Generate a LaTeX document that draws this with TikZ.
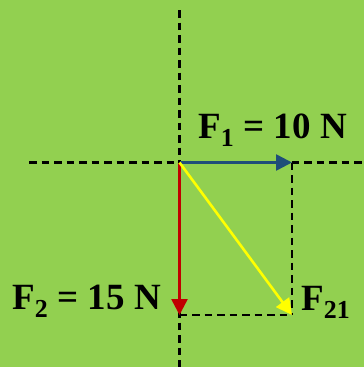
\documentclass[tikz,border=0pt]{standalone}
\usepackage{fontspec}
\setmainfont{Liberation Serif}
\usetikzlibrary{arrows.meta}
\definecolor{bggreen}{RGB}{146,208,80}
\definecolor{fblue}{RGB}{31,78,121}
\definecolor{fred}{RGB}{192,0,0}
\definecolor{fyellow}{RGB}{255,255,0}
\begin{document}
\begin{tikzpicture}[x=1pt,y=-1pt,
  guide/.style={black,line width=2.2pt,dash pattern=on 7.5pt off 5pt},
  force/.style={line width=2.6pt,-{Triangle[length=16pt,width=16pt]}},
  lbl/.style={font=\fontsize{37}{40}\selectfont\bfseries,inner sep=0pt,anchor=base west}]
\fill[bggreen] (0,0) rectangle (364,367);
\useasboundingbox (0,0) rectangle (364,367);
\coordinate (O) at (179.5,162.5);
\coordinate (A) at (292,162.5);
\coordinate (B) at (179.5,315);
\coordinate (C) at (292,315);
\coordinate (T) at (179.5,10);
\coordinate (Bot) at (179.5,367);
\coordinate (L) at (29,162.5);
\coordinate (R) at (364,162.5);
\draw[guide] (T) -- (Bot);
\draw[guide] (L) -- (R);
\draw[guide] (A) -- (C);
\draw[guide] (B) -- (C);
\draw[force,fblue] (O) -- (A);
\draw[force,fred] (O) -- (B);
\draw[force,fyellow] (O) -- (C);
\node[lbl] (f1) at (198,138) {F\textsubscript{1} = 10 N};
\node[lbl] (f2) at (12,309) {F\textsubscript{2} = 15 N};
\node[lbl] (f21) at (301,310) {F\textsubscript{21}};
\end{tikzpicture}
\end{document}
